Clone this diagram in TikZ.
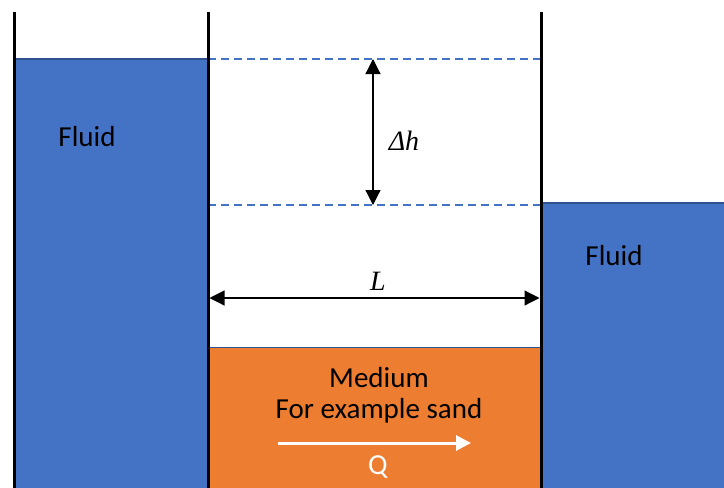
\documentclass[tikz,border=0pt]{standalone}
\usepackage{fontspec}
\setmainfont{Carlito}
\newfontfamily\serifit{Liberation Serif}
\usetikzlibrary{arrows.meta}
\definecolor{fluid}{HTML}{4472C4}
\definecolor{fluidedge}{HTML}{2F528F}
\definecolor{medium}{HTML}{ED7D31}
\tikzset{
  wall/.style={line width=3pt, black},
  dimline/.style={line width=1.2pt, {Triangle[length=15pt,width=15pt]}-{Triangle[length=15pt,width=15pt]}},
  level/.style={draw=fluid, line width=1.3pt, dash pattern=on 8pt off 5pt},
  lbl/.style={font=\fontsize{29}{34}\selectfont, text=black},
  mathlbl/.style={font=\serifit\itshape\fontsize{28}{32}\selectfont},
}
\begin{document}
\begin{tikzpicture}[x=1pt,y=-1pt]
\useasboundingbox (0,0) rectangle (724,488);
% fluids and medium
\filldraw[fill=fluid, draw=fluidedge, line width=1.2pt] (14,495) -- (14,59) -- (208,59) -- (208,495);
\filldraw[fill=fluid, draw=fluidedge, line width=1.2pt] (541,495) -- (541,203) -- (730,203) -- (730,495);
\filldraw[fill=medium, draw=fluidedge, line width=1pt] (208,495) -- (208,347) -- (541,347) -- (541,495);
% dashed level lines
\coordinate (t1) at (208,59); \coordinate (t2) at (541,59);
\coordinate (b1) at (208,205); \coordinate (b2) at (541,205);
\draw[level] (t1) -- (t2);
\draw[level] (b1) -- (b2);
% walls
\draw[wall] (14,12) -- (14,490);
\draw[wall] (208,12) -- (208,490);
\draw[wall] (541,12) -- (541,490);
% dimension arrows
\coordinate (dhTop) at (373,59);
\coordinate (dhBot) at (373,205);
\draw[dimline] (dhTop) -- (dhBot);
\node[mathlbl] (dh) at (404,141) {Δh};
\coordinate (Lleft) at (209.5,298);
\coordinate (Lright) at (539.5,298);
\draw[dimline] (Lleft) -- (Lright);
\node[mathlbl] (L) at (378,281) {L};
% labels
\node[lbl] (f1) at (87,137) {Fluid};
\node[lbl] (f2) at (614,256) {Fluid};
\node[lbl] (med) at (379,378) {Medium};
\node[lbl] (ex) at (379,411) {For example sand};
\coordinate (q1) at (278,443);
\coordinate (q2) at (471,443);
\draw[white, line width=3pt, -{Triangle[length=15pt,width=15pt]}] (q1) -- (q2);
\node[lbl, text=white] (Q) at (378,467) {Q};
\end{tikzpicture}
\end{document}
